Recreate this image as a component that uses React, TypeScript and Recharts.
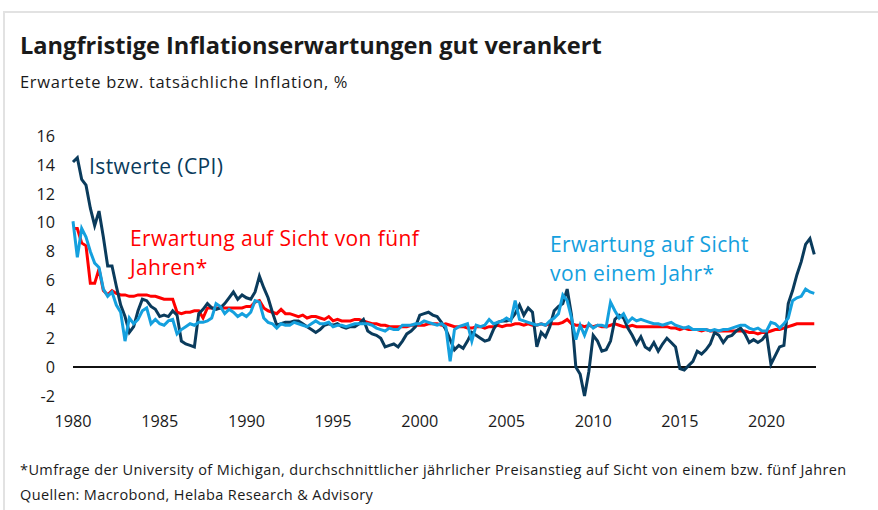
import React from 'react'
import { LineChart, Line, XAxis, YAxis, ReferenceLine } from 'recharts'

// quarterly readings (Jan, Apr, Jul, Oct), 1980 .. 2022
const cpi = [
  14.2, 14.5, 13.0, 12.6, 11.0, 9.8, 10.8, 9.0, 7.0, 7.0, 5.6, 4.3,
  3.5, 2.4, 2.8, 3.9, 4.7, 4.6, 4.2, 4.0, 3.5, 3.6, 3.5, 3.9,
  3.6, 1.8, 1.6, 1.5, 1.4, 3.7, 4.0, 4.4, 4.1, 4.0, 4.1, 4.4,
  4.8, 5.2, 4.7, 5.0, 4.8, 4.7, 5.2, 6.3, 5.5, 4.8, 3.8, 2.9,
  3.0, 3.1, 3.1, 3.2, 3.2, 3.0, 2.8, 2.6, 2.4, 2.6, 2.9, 3.0,
  2.9, 3.0, 2.8, 2.7, 2.8, 2.8, 3.0, 3.3, 2.5, 2.3, 2.2, 2.0,
  1.4, 1.5, 1.6, 1.4, 1.8, 2.3, 2.5, 2.8, 3.6, 3.7, 3.8, 3.6,
  3.5, 3.1, 2.6, 1.9, 1.2, 1.5, 1.3, 1.8, 2.4, 2.2, 2.0, 1.8,
  1.9, 2.6, 3.1, 3.2, 3.2, 3.3, 3.7, 4.3, 3.6, 4.1, 3.8, 1.4,
  2.4, 2.1, 2.8, 3.9, 4.2, 4.4, 5.4, 3.6, 0.0, -0.5, -2.0, -0.3,
  2.2, 1.8, 1.1, 1.2, 1.8, 3.3, 3.6, 3.4, 2.7, 2.2, 1.6, 2.1,
  1.4, 1.2, 1.7, 1.1, 1.6, 2.0, 1.7, 1.4, -0.1, -0.2, 0.1, 0.4,
  1.1, 0.9, 1.2, 1.6, 2.4, 2.2, 1.7, 2.1, 2.2, 2.5, 2.7, 2.3,
  1.7, 1.9, 1.7, 1.9, 2.3, 0.2, 0.8, 1.4, 1.5, 4.4, 5.3, 6.4,
  7.3, 8.5, 8.9, 7.8,
]

const exp1y = [
  10.1, 7.6, 9.6, 9.0, 8.0, 7.2, 6.9, 5.4, 4.9, 5.2, 4.3, 3.8,
  1.8, 3.4, 3.0, 3.3, 3.9, 4.1, 3.0, 3.3, 3.0, 2.9, 3.2, 3.3,
  2.3, 2.6, 2.8, 3.0, 2.9, 3.1, 3.1, 3.2, 3.4, 4.4, 4.2, 3.7,
  4.0, 3.8, 3.5, 3.7, 3.5, 3.8, 4.6, 4.5, 3.4, 3.1, 3.0, 2.7,
  3.0, 2.9, 2.9, 3.1, 3.0, 2.9, 2.8, 3.0, 3.2, 3.0, 3.0, 3.1,
  2.8, 2.9, 2.9, 2.8, 2.9, 3.0, 3.0, 3.0, 3.0, 2.9, 2.7, 2.6,
  2.5, 2.7, 2.6, 2.6, 2.9, 2.9, 2.9, 3.0, 3.0, 3.2, 3.1, 3.0,
  2.9, 3.0, 2.8, 0.4, 2.6, 2.8, 2.9, 3.0, 1.8, 2.9, 2.8, 2.9,
  3.3, 3.0, 3.1, 3.2, 3.4, 3.2, 4.6, 3.3, 3.2, 3.1, 3.0, 2.9,
  3.0, 2.9, 3.2, 3.4, 3.7, 5.0, 4.6, 3.4, 1.9, 2.9, 2.2, 3.0,
  2.7, 2.9, 2.9, 2.8, 4.5, 3.9, 3.4, 3.7, 3.1, 3.4, 3.2, 3.3,
  3.2, 3.1, 3.0, 3.0, 2.9, 3.0, 3.1, 2.9, 2.8, 2.7, 2.8, 2.6,
  2.6, 2.6, 2.6, 2.5, 2.6, 2.5, 2.6, 2.6, 2.7, 2.8, 2.9, 2.9,
  2.7, 2.6, 2.7, 2.5, 2.5, 3.1, 3.0, 2.7, 3.0, 3.4, 4.6, 4.8,
  4.9, 5.4, 5.2, 5.1,
]

const exp5y = [
  9.6, 9.6, 8.6, 8.4, 5.8, 5.8, 6.8, 5.3, 5.0, 5.3, 5.1, 5.0,
  5.0, 4.9, 4.9, 5.0, 5.0, 5.0, 4.9, 4.9, 4.8, 4.7, 4.7, 4.7,
  3.8, 3.7, 3.8, 3.8, 3.9, 3.9, 3.4, 4.1, 4.1, 4.1, 4.1, 4.1,
  4.1, 4.1, 4.1, 4.1, 4.2, 4.2, 4.5, 4.6, 4.1, 3.9, 3.8, 3.7,
  4.0, 3.7, 3.7, 3.6, 3.5, 3.6, 3.4, 3.5, 3.5, 3.4, 3.3, 3.5,
  3.2, 3.3, 3.2, 3.2, 3.2, 3.3, 3.3, 3.2, 3.1, 3.0, 3.0, 2.9,
  2.9, 2.8, 2.8, 2.8, 2.8, 2.8, 2.9, 2.9, 2.9, 2.9, 3.0, 3.0,
  3.0, 2.9, 3.0, 2.9, 2.8, 2.8, 2.8, 2.7, 2.7, 2.8, 2.8, 2.7,
  2.8, 2.8, 2.9, 2.8, 2.9, 2.9, 3.0, 3.0, 2.9, 3.0, 2.9, 2.9,
  3.0, 2.9, 3.0, 3.0, 3.0, 3.1, 3.3, 3.0, 2.9, 2.9, 2.8, 2.9,
  2.8, 2.9, 2.8, 2.8, 2.9, 3.0, 2.9, 2.8, 2.8, 2.9, 2.8, 2.8,
  2.8, 2.8, 2.8, 2.8, 2.8, 2.8, 2.7, 2.7, 2.6, 2.7, 2.6, 2.6,
  2.6, 2.5, 2.6, 2.5, 2.5, 2.5, 2.5, 2.5, 2.5, 2.5, 2.5, 2.5,
  2.4, 2.4, 2.3, 2.4, 2.4, 2.5, 2.6, 2.6, 2.7, 2.8, 2.9, 3.0,
  3.0, 3.0, 3.0, 3.0,
]

const dates = cpi.map((_, i) => 1980 + i / 4)
const yearTicks = [1980, 1985, 1990, 1995, 2000, 2005, 2010, 2015, 2020]
const valueTicks = [-2, 0, 2, 4, 6, 8, 10, 12, 14, 16]

const data = dates.map((d, i) => ({
  date: d,
  cpi: cpi[i],
  exp1y: exp1y[i],
  exp5y: exp5y[i],
}))

const NAVY = '#0a3b5c'
const RED = '#ff0000'
const BLUE = '#14a0de'
const FONT = '"Open Sans", "Noto Sans", sans-serif'
const tick = { fontSize: 16.2, fill: '#1a1a1a', fontFamily: FONT }

function Label({ x, y, color, children }: { x: number; y: number; color: string; children: React.ReactNode }) {
  return (
    <div
      style={{
        position: 'absolute',
        left: x,
        top: y,
        fontSize: 21,
        letterSpacing: 0.4,
        lineHeight: '29px',
        color,
        whiteSpace: 'nowrap',
      }}
    >
      {children}
    </div>
  )
}

export default function App() {
  return (
    <div
      style={{
        position: 'absolute',
        left: 0,
        top: 0,
        width: 878,
        height: 510,
        background: '#fff',
        overflow: 'hidden',
        fontFamily: FONT,
      }}
    >
      <div
        style={{
          position: 'absolute',
          left: 3,
          top: 11,
          right: 0,
          bottom: 0,
          borderTop: '2px solid #e2e2e2',
          borderLeft: '2px solid #e2e2e2',
        }}
      />
      <div
        style={{
          position: 'absolute',
          left: 20,
          top: 29,
          fontSize: 23.6,
          fontWeight: 700,
          color: '#1a1a1a',
          whiteSpace: 'nowrap',
        }}
      >
        Langfristige Inflationserwartungen gut verankert
      </div>
      <div
        style={{
          position: 'absolute',
          left: 20,
          top: 70,
          fontSize: 16.5,
          letterSpacing: 0.7,
          color: '#1a1a1a',
          whiteSpace: 'nowrap',
        }}
      >
        Erwartete bzw. tatsächliche Inflation, %
      </div>

      <div style={{ position: 'absolute', left: 0, top: 0 }}>
        <LineChart
          width={878}
          height={440}
          data={data}
          margin={{ top: 136, right: 0, bottom: 0, left: 0 }}
        >
          <XAxis
            dataKey="date"
            type="number"
            domain={[1980, 2022.85]}
            ticks={yearTicks}
            axisLine={false}
            tickLine={false}
            tickSize={0}
            tickMargin={19}
            height={44}
            tick={tick}
            interval={0}
          />
          <YAxis
            yAxisId="left"
            domain={[-2, 16]}
            ticks={valueTicks}
            axisLine={false}
            tickLine={false}
            tickSize={0}
            tickMargin={18}
            width={73}
            tick={tick}
            interval={0}
          />
          <YAxis
            yAxisId="right"
            orientation="right"
            domain={[-2, 16]}
            ticks={valueTicks}
            axisLine={false}
            tickLine={false}
            tickSize={0}
            tickMargin={16}
            width={62}
            tick={tick}
            interval={0}
          />
          <ReferenceLine yAxisId="left" y={0} stroke="#111" strokeWidth={2} />
          <Line
            yAxisId="left"
            type="linear"
            dataKey="exp5y"
            stroke={RED}
            strokeWidth={3}
            dot={false}
            isAnimationActive={false}
          />
          <Line
            yAxisId="left"
            type="linear"
            dataKey="cpi"
            stroke={NAVY}
            strokeWidth={3}
            dot={false}
            isAnimationActive={false}
          />
          <Line
            yAxisId="left"
            type="linear"
            dataKey="exp1y"
            stroke={BLUE}
            strokeWidth={3}
            dot={false}
            isAnimationActive={false}
          />
        </LineChart>
      </div>

      <Label x={89} y={152} color={NAVY}>Istwerte (CPI)</Label>
      <Label x={130} y={224} color={RED}>Erwartung auf Sicht von fünf</Label>
      <Label x={130} y={253} color={RED}>Jahren*</Label>
      <Label x={550} y={230} color={BLUE}>Erwartung auf Sicht</Label>
      <Label x={550} y={259} color={BLUE}>von einem Jahr*</Label>

      <div
        style={{
          position: 'absolute',
          left: 20,
          top: 457,
          fontSize: 14.5,
          letterSpacing: 0.4,
          lineHeight: '25px',
          color: '#1a1a1a',
          whiteSpace: 'nowrap',
        }}
      >
        *Umfrage der University of Michigan, durchschnittlicher jährlicher Preisanstieg auf Sicht von einem bzw. fünf Jahren
        <br />
        Quellen: Macrobond, Helaba Research &amp; Advisory
      </div>
    </div>
  )
}
